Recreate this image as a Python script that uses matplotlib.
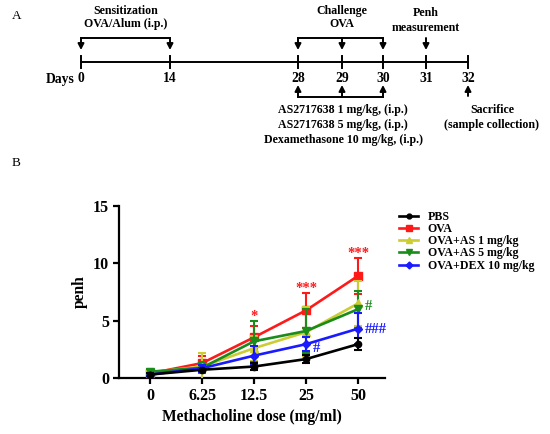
import matplotlib.pyplot as plt
from matplotlib.lines import Line2D

plt.rcParams["font.family"] = ["Liberation Serif", "DejaVu Serif"]
plt.rcParams["font.weight"] = "bold"

# panel A: protocol timeline
days = ["0", "14", "28", "29", "30", "31", "32"]
day_px = [81, 170, 298, 342, 383, 426, 468]  # layout positions (pixels)
treat_lines = ["AS2717638 1 mg/kg, (i.p.)",
               "AS2717638 5 mg/kg, (i.p.)",
               "Dexamethasone 10 mg/kg, (i.p.)"]

# panel B: airway hyperresponsiveness
doses = ["0", "6.25", "12.5", "25", "50"]
groups = ["PBS", "OVA", "OVA+AS 1 mg/kg", "OVA+AS 5 mg/kg", "OVA+DEX 10 mg/kg"]
penh_pbs = [0.30, 0.72, 1.00, 1.65, 2.95]
penh_ova = [0.40, 1.30, 3.55, 5.90, 8.90]
penh_as1 = [0.50, 1.00, 2.60, 4.00, 6.50]
penh_as5 = [0.55, 0.90, 3.20, 4.10, 6.00]
penh_dex = [0.30, 0.85, 1.95, 2.95, 4.30]
sem_pbs = [0.10, 0.15, 0.30, 0.35, 0.55]
sem_ova = [0.15, 0.60, 1.00, 1.55, 1.60]
sem_as1 = [0.10, 1.20, 1.10, 2.20, 2.00]
sem_as5 = [0.20, 0.50, 1.80, 1.90, 1.60]
sem_dex = [0.10, 0.30, 0.80, 0.60, 1.35]

colors = ["black", "#ff1a1a", "#cccc33", "#1a8c1a", "#1a1aff"]
markers = ["o", "s", "^", "v", "D"]
msizes = [4.5, 5.5, 6, 6, 4.5]

fig = plt.figure(figsize=(5.5, 4.34), dpi=100)

# ---- Panel A (pixel coordinates) ----
axA = fig.add_axes([0, 0, 1, 1])
axA.set_xlim(0, 550)
axA.set_ylim(434, 0)
axA.axis("off")

lw = 1.4
fs = 8.6
arr = dict(arrowstyle="-|>,head_length=0.35,head_width=0.18", color="black", lw=lw,
           shrinkA=0, shrinkB=0)

axA.text(12, 16, "A", fontsize=9.5, fontweight="normal", ha="left", va="center")
axA.text(12, 163, "B", fontsize=9.5, fontweight="normal", ha="left", va="center")

axA.plot([day_px[0], day_px[-1]], [62, 62], color="black", lw=lw)
for d, x in zip(days, day_px):
    axA.plot([x, x], [56, 68], color="black", lw=lw)
    axA.text(x, 79, d, fontsize=9.8, ha="center", va="center")
axA.text(46, 79, "Days", fontsize=9.8, ha="left", va="center")

# sensitization bracket
axA.plot([day_px[0], day_px[1]], [38, 38], color="black", lw=lw)
for x in day_px[:2]:
    axA.annotate("", xy=(x, 50), xytext=(x, 38), arrowprops=arr)
axA.text((day_px[0] + day_px[1]) / 2, 11, "Sensitization", fontsize=fs, ha="center", va="center")
axA.text((day_px[0] + day_px[1]) / 2, 24, "OVA/Alum (i.p.)", fontsize=fs, ha="center", va="center")

# challenge bracket
axA.plot([day_px[2], day_px[4]], [38, 38], color="black", lw=lw)
for x in day_px[2:5]:
    axA.annotate("", xy=(x, 50), xytext=(x, 38), arrowprops=arr)
axA.text(day_px[3], 11, "Challenge", fontsize=fs, ha="center", va="center")
axA.text(day_px[3], 24, "OVA", fontsize=fs, ha="center", va="center")

# penh measurement
axA.annotate("", xy=(day_px[5], 50), xytext=(day_px[5], 38), arrowprops=arr)
axA.text(day_px[5], 13, "Penh", fontsize=fs, ha="center", va="center")
axA.text(day_px[5], 28, "measurement", fontsize=fs, ha="center", va="center")

# treatment bracket
axA.plot([day_px[2], day_px[4]], [97, 97], color="black", lw=lw)
for x in day_px[2:5]:
    axA.annotate("", xy=(x, 85), xytext=(x, 97), arrowprops=arr)
for i, t in enumerate(treat_lines):
    axA.text(343, 110 + 15 * i, t, fontsize=fs, ha="center", va="center")

# sacrifice
axA.annotate("", xy=(day_px[6], 85), xytext=(day_px[6], 96), arrowprops=arr)
axA.text(492, 110, "Sacrifice", fontsize=fs, ha="center", va="center")
axA.text(492, 125, "(sample collection)", fontsize=fs, ha="center", va="center")

# ---- Panel B ----
ax = fig.add_axes([119 / 550, 56 / 434, 266 / 550, 172 / 434])
x = list(range(len(doses)))
series = [penh_pbs, penh_ova, penh_as1, penh_as5, penh_dex]
errs = [sem_pbs, sem_ova, sem_as1, sem_as5, sem_dex]
handles = []
for i in range(len(groups)):
    ax.errorbar(x, series[i], yerr=errs[i], color=colors[i], marker=markers[i],
                markersize=msizes[i], lw=1.9, elinewidth=1.5, capsize=3, capthick=1.5,
                zorder=3.5 if i == 0 else 3 + i * 0.1)
    handles.append(Line2D([], [], color=colors[i], marker=markers[i],
                          markersize=msizes[i] - 1, lw=1.9, label=groups[i]))

# significance marks
marks = [("*", 2, 5.4, colors[1], "center"),
         ("***", 3, 7.8, colors[1], "center"),
         ("***", 4, 10.9, colors[1], "center"),
         ("#", 4.13, 6.2, colors[3], "left"),
         ("###", 4.13, 4.25, colors[4], "left"),
         ("#", 3.13, 2.6, colors[4], "left")]
for txt, xi, yi, c, ha in marks:
    ax.text(xi, yi, txt, color=c, fontsize=10.5, ha=ha, va="center", fontweight="bold")

ax.set_xlim(-0.6, 4.52)
ax.set_ylim(0, 15)
ax.set_xticks(x)
ax.set_xticklabels(doses)
ax.set_yticks([0, 5, 10, 15])
ax.spines["top"].set_visible(False)
ax.spines["right"].set_visible(False)
for s in ["left", "bottom"]:
    ax.spines[s].set_linewidth(1.6)
ax.tick_params(axis="both", width=1.6, length=4, labelsize=11.5, pad=3)
for lab in ax.get_xticklabels() + ax.get_yticklabels():
    lab.set_fontweight("bold")
ax.set_xlabel("Methacholine dose (mg/ml)", fontsize=11.2, fontweight="bold", labelpad=4)
ax.set_ylabel("penh", fontsize=11.2, fontweight="bold", labelpad=4)

leg = ax.legend(handles=handles, loc="upper left", bbox_to_anchor=(1.035, 1.0), frameon=False,
                fontsize=8.6, handlelength=1.6, handletextpad=0.8, labelspacing=0.02,
                borderaxespad=0.0)
for t in leg.get_texts():
    t.set_fontweight("bold")

fig.savefig("out.png", dpi=100)
